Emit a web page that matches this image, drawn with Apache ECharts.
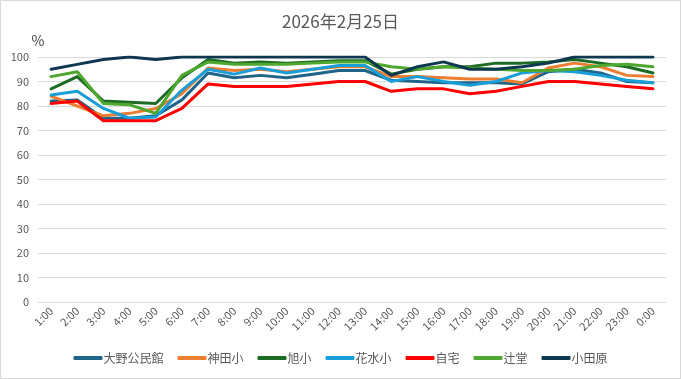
<!DOCTYPE html>
<html>
<head>
<meta charset="utf-8">
<script src="https://cdn.jsdelivr.net/npm/echarts@6/dist/echarts.min.js"></script>
<style>
html,body{margin:0;padding:0;background:#fff;}
#main{width:681px;height:379px;box-sizing:border-box;border:1px solid #d9d9d9;}
</style>
</head>
<body>
<div id="main"></div>
<script>
const titleText = '2026年2月25日';
const categories = ['1:00','2:00','3:00','4:00','5:00','6:00','7:00','8:00','9:00','10:00','11:00','12:00','13:00','14:00','15:00','16:00','17:00','18:00','19:00','20:00','21:00','22:00','23:00','0:00'];
const seriesNames = ['大野公民館','神田小','旭小','花水小','自宅','辻堂','小田原'];
const ohno    = [82, 82.5, 75, 75, 76, 82.5, 93.5, 91.5, 92.5, 91.5, 93, 94.5, 94.5, 90.5, 90, 89.5, 89.5, 89.5, 89, 94, 95, 93.5, 90, 89.5];
const kanda   = [84, 80, 76, 77, 79, 85, 95.5, 94.5, 95, 94, 95, 96, 96, 92, 92, 91.5, 91, 91, 89.5, 95.5, 97.5, 96, 92.5, 92];
const asahi   = [87, 92, 82, 81.5, 81, 91.5, 99, 97.5, 98, 97.5, 98, 98.5, 98.5, 93, 95, 96, 96, 97.5, 97.5, 98, 99, 97.5, 96, 93.5];
const hanamizu= [84.5, 86, 79, 75, 75.5, 86.5, 95, 93, 95.5, 93.5, 95, 96.5, 96.5, 90, 92, 90, 88.5, 90, 93.5, 94.5, 94, 92.5, 90.5, 89.5];
const jitaku  = [81, 82, 74, 74, 74, 79, 89, 88, 88, 88, 89, 90, 90, 86, 87, 87, 85, 86, 88, 90, 90, 89, 88, 87];
const tsujido = [92, 94, 81, 80.5, 77, 92.5, 98, 97, 97, 97, 97.5, 98, 98, 96, 95, 96, 95.5, 95, 94.5, 94.5, 95, 96.5, 97, 96];
const odawara = [95, 97, 99, 100, 99, 100, 100, 100, 100, 100, 100, 100, 100, 92.5, 96, 98, 95, 95, 96, 97.5, 100, 100, 100, 100];
const yTicks = [0, 10, 20, 30, 40, 50, 60, 70, 80, 90, 100];

const allData = [ohno, kanda, asahi, hanamizu, jitaku, tsujido, odawara];
const colors = ['#1f6489', '#ed7d31', '#1e6b25', '#1a9ed8', '#ff0000', '#4ea72e', '#0e3850'];
const font = '"Noto Sans CJK JP", "Noto Sans", sans-serif';

const chart = echarts.init(document.getElementById('main'), null, {renderer: 'canvas'});
chart.setOption({
  animation: false,
  color: colors,
  title: {
    text: titleText, left: 'center', top: 7,
    textStyle: {fontFamily: font, fontSize: 17, fontWeight: 'normal', color: '#595959'}
  },
  legend: {
    data: seriesNames, bottom: 9, left: 'center',
    itemWidth: 29, itemHeight: 4, itemGap: 14,
    icon: 'roundRect',
    textStyle: {fontFamily: font, fontSize: 12, color: '#595959', padding: [0, 0, 0, -4]}
  },
  grid: {left: 37, right: 14, top: 56, bottom: 76, containLabel: false},
  xAxis: {
    type: 'category', data: categories, boundaryGap: true,
    axisLine: {show: true, lineStyle: {color: '#d9d9d9', width: 1}},
    axisTick: {show: false},
    axisLabel: {rotate: 45, interval: 0, margin: 7, fontFamily: font, fontSize: 11, color: '#595959'}
  },
  yAxis: {
    type: 'value', min: yTicks[0], max: yTicks[yTicks.length - 1], interval: 10,
    name: '%', nameLocation: 'end', nameGap: 9,
    nameTextStyle: {fontFamily: font, fontSize: 14, color: '#404040', align: 'center'},
    axisLine: {show: false}, axisTick: {show: false},
    axisLabel: {margin: 9, fontFamily: font, fontSize: 11, color: '#595959'},
    splitLine: {lineStyle: {color: '#d9d9d9', width: 1}}
  },
  series: seriesNames.map((n, i) => ({
    name: n, type: 'line', data: allData[i], showSymbol: false, symbol: 'none',
    lineStyle: {width: 3, color: colors[i], cap: 'round', join: 'round'},
    itemStyle: {color: colors[i]}
  }))
});
</script>
</body>
</html>
